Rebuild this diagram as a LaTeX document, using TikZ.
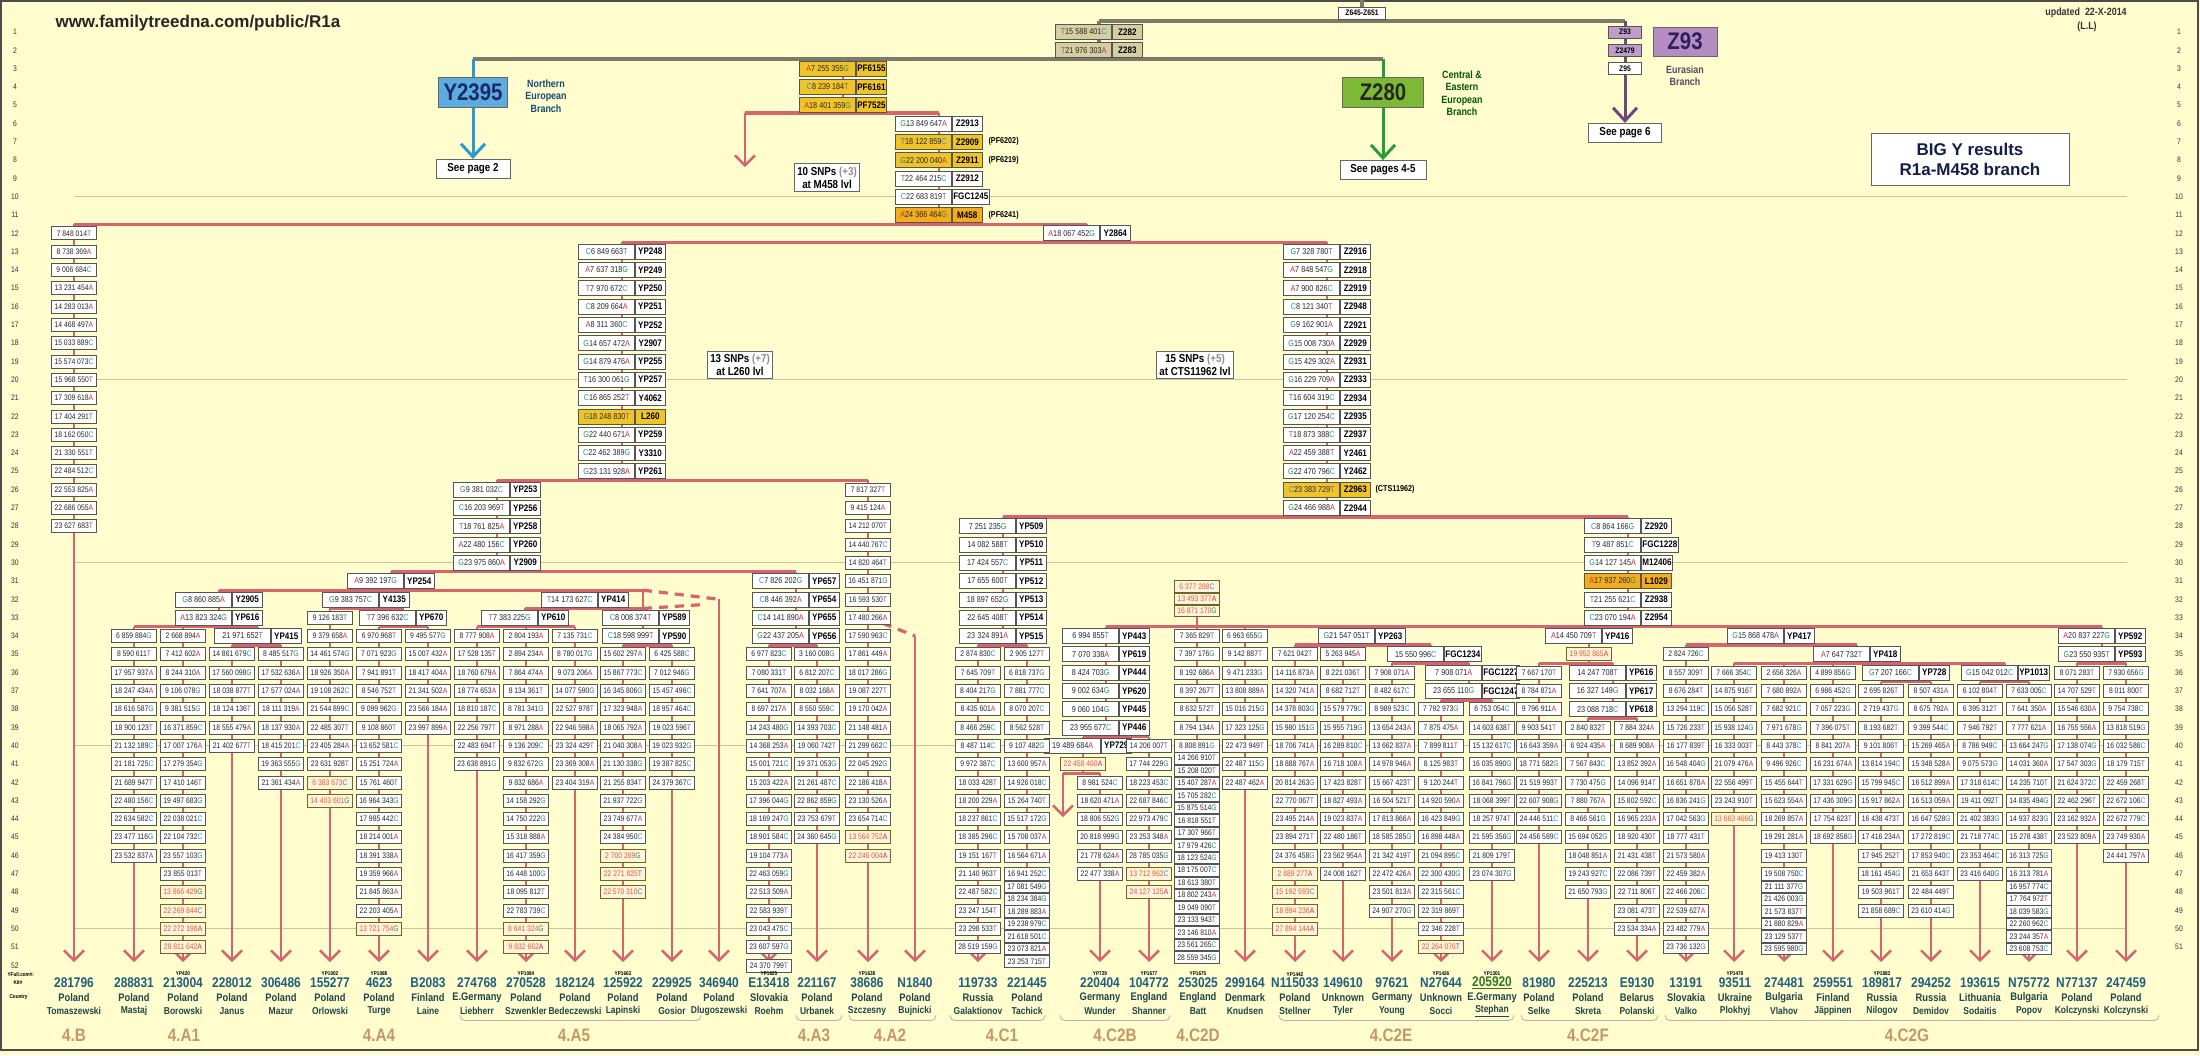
\documentclass[tikz,border=0pt]{standalone}
\usepackage{fontspec}
\setmainfont{Liberation Sans}
\newfontfamily\nar[FakeStretch=0.85]{Liberation Sans}
\usetikzlibrary{arrows.meta}

\definecolor{bgpage}{RGB}{255,253,206}
\definecolor{treered}{RGB}{214,100,106}
\definecolor{treegrey}{RGB}{125,122,105}
\definecolor{rowgrey}{RGB}{200,198,160}
\definecolor{boxline}{RGB}{85,85,85}
\definecolor{goldfill}{RGB}{240,196,40}
\definecolor{orfill}{RGB}{242,172,30}
\definecolor{khaki}{RGB}{214,206,160}
\definecolor{al}{RGB}{0,0,0}
\definecolor{alA}{RGB}{200,50,60}
\definecolor{alC}{RGB}{40,150,200}
\definecolor{alG}{RGB}{40,140,90}
\definecolor{alT}{RGB}{130,90,130}
\definecolor{unsure}{RGB}{228,95,40}
\definecolor{kitblue}{RGB}{30,95,125}
\definecolor{kitgr}{RGB}{50,120,30}
\definecolor{ctygreen}{RGB}{30,70,75}
\definecolor{branchtan}{RGB}{196,150,105}
\definecolor{ybl}{RGB}{92,172,222}
\definecolor{ybltext}{RGB}{27,42,107}
\definecolor{zgr}{RGB}{124,185,52}
\definecolor{zpu}{RGB}{180,140,192}
\definecolor{zputext}{RGB}{47,31,95}
\definecolor{arrblue}{RGB}{42,154,208}
\definecolor{arrgreen}{RGB}{42,154,58}
\definecolor{arrpurple}{RGB}{106,74,127}

% allele letter in its colour
\newcommand\al[1]{\textcolor{al#1}{#1}}

% chain of named SNP boxes down one column: x, first row, list a/p/b/name/fill
\newcommand\chaincol[3]{%
  \foreach \a/\p/\b/\n/\f [count=\i from 0] in {#3}{
    \node[pospart,fill=\f] (p#1-\i) at ({#1+13},{#2+\i}) {\al{\a}\p\al{\b}};
    \node[namepart,fill=\f] (n#1-\i) at ({#1+13},{#2+\i}) {\n};
  }}

% column of small boxes: tag, style, x, first row, row step, list p/b
\newcommand\boxcol[6]{%
  \foreach \p/\b [count=\i from 0] in {#6}{
    \node[#2] (#1-\i) at (#3,{#4+#5*\i}) {\p\al{\b}};
  }}

\begin{document}
\begin{tikzpicture}[x=1pt,y=-18.3pt,
    redbar/.style={draw=treered,line width=3.2pt},
    reddrop/.style={draw=treered,line width=2.4pt},
    redarrow/.style={reddrop,-{Straight Barb[length=10pt,width=20pt]}},
    greybar/.style={draw=treegrey,line width=3.2pt},
    rowline/.style={draw=rowgrey,line width=1.2pt},
    leafbox/.style={draw=boxline,fill=white,line width=0.6pt,inner sep=0pt,
      minimum width=45pt,minimum height=13pt,text=black!85,
      font=\nar\fontsize{8}{9}\selectfont},
    unsurebox/.style={leafbox,fill=bgpage!70!orange!30,draw=olive!70!black,text=unsure},
    tightbox/.style={leafbox,minimum height=11.5pt},
    pospart/.style={draw=boxline,line width=0.6pt,inner sep=0pt,anchor=east,
      minimum width=56pt,minimum height=15pt,text=black!85,
      font=\nar\fontsize{8.5}{9}\selectfont},
    namepart/.style={draw=boxline,line width=0.6pt,inner sep=1pt,anchor=west,
      minimum width=30pt,minimum height=15pt,
      font=\nar\bfseries\fontsize{9.5}{10}\selectfont},
    seebox/.style={draw=black!60,fill=white,line width=0.8pt,minimum height=19pt,
      inner sep=3pt,font=\nar\bfseries\fontsize{11.5}{12}\selectfont},
    snpnote/.style={draw=black!60,fill=white,line width=0.8pt,align=center,
      inner sep=3pt,font=\nar\bfseries\fontsize{11.5}{13}\selectfont},
    rowno/.style={font=\nar\fontsize{8}{9}\selectfont,text=black!80},
    smallz/.style={draw=boxline,line width=0.6pt,minimum width=33pt,minimum height=12pt,
      inner sep=0pt,font=\nar\bfseries\fontsize{8}{9}\selectfont},
    yplab/.style={font=\nar\bfseries\fontsize{5.5}{6}\selectfont},
    kitlab/.style={font=\nar\bfseries\fontsize{14}{14}\selectfont,text=kitblue},
    ctylab/.style={font=\nar\bfseries\fontsize{11}{12}\selectfont,text=ctygreen},
    namelab/.style={font=\nar\bfseries\fontsize{10}{11}\selectfont,text=ctygreen},
    brlab/.style={font=\nar\bfseries\fontsize{18}{19}\selectfont,text=branchtan},
    grpbracket/.style={draw=black!30,line width=0.8pt,rounded corners=5pt},
  ]
  \useasboundingbox (0,-0.7486) rectangle (2200,56.902);
  \fill[bgpage] (0,-0.7486) rectangle (2200,56.902);
  \draw[black!70,line width=2pt] (1,-0.69) rectangle (2198,56.63);

  % row numbers and guide lines
  \foreach \r in {1,...,52}
    \node[rowno] (rl\r) at (15,\r) {\r};
  \foreach \r in {1,...,51}
    \node[rowno] (rr\r) at (2179,\r) {\r};
  \foreach \r in {10,20,30,40,50}
    \draw[rowline] (74,\r) -- (2127,\r);

  % top of the tree
  \draw[greybar] (1362,-0.75) -- (1362,0.4);
  \draw[greybar] (1099,0.4) -- (1625,0.4);
  \draw[greybar] (1099,0.4) -- (1099,2.48);
  \draw[greybar] (473,2.48) -- (1383,2.48);
  \draw[draw=arrblue,line width=3pt,-{Straight Barb[length=13pt,width=24pt]}] (473,2.48) -- (473,7.94);
  \draw[draw=arrgreen,line width=3pt,-{Straight Barb[length=13pt,width=24pt]}] (1383,2.48) -- (1383,8.0);
  \draw[draw=arrpurple,line width=3pt,-{Straight Barb[length=13pt,width=24pt]}] (1625,0.4) -- (1625,5.97);

  % M458 and below
  \draw[reddrop] (843,2.48) -- (843,5.43);
  \draw[redbar] (745,5.43) -- (939,5.43);
  \draw[redarrow] (745,5.43) -- (745,8.38);
  \draw[reddrop] (939,5.43) -- (939,11.5);
  \draw[redbar] (74,11.5) -- (1087,11.5);
  \draw[reddrop] (1087,11.5) -- (1087,12.5);
  \draw[redbar] (622,12.5) -- (1327,12.5);
  \draw[reddrop] (622,12.5) -- (622,25.5);
  \draw[redbar] (497,25.5) -- (868,25.5);
  \draw[reddrop] (497,25.5) -- (497,30.5);
  \draw[redbar] (391,30.5) -- (796,30.5);
  \draw[reddrop] (391,30.5) -- (391,31.5);
  \draw[redbar] (219,31.5) -- (643,31.5);
  \draw[redbar,dash pattern=on 9pt off 7pt] (643,31.5) -- (719,32);
  \draw[redbar,dash pattern=on 9pt off 7pt] (643,32.5) -- (700,32.3);
  \draw[reddrop] (219,31.5) -- (219,33.5);
  \draw[redbar] (134,33.5) -- (258,33.5);
  \draw[reddrop] (258,33.5) -- (258,34.5);
  \draw[redbar] (232,34.5) -- (281,34.5);
  \draw[reddrop] (366,31.5) -- (366,32.5);
  \draw[redbar] (330,32.5) -- (403,32.5);
  \draw[reddrop] (403,32.5) -- (403,33.5);
  \draw[redbar] (379,33.5) -- (428,33.5);
  \draw[reddrop] (585,31.5) -- (585,32.5);
  \draw[redbar] (525,32.5) -- (643,32.5);
  \draw[reddrop] (525,32.5) -- (525,33.5);
  \draw[redbar] (477,33.5) -- (575,33.5);
  \draw[reddrop] (643,31.5) -- (643,34.5);
  \draw[redbar] (623,34.5) -- (672,34.5);
  \draw[reddrop] (796,30.5) -- (796,34.5);
  \draw[redbar] (769,34.5) -- (817,34.5);
  \draw[redbar,dash pattern=on 9pt off 7pt] (868,33) -- (915,34);
  \draw[reddrop] (1327,12.5) -- (1327,27.5);
  \draw[redbar] (1003,27.5) -- (1628,27.5);
  \draw[reddrop] (1003,27.5) -- (1003,34.5);
  \draw[redbar] (978,34.5) -- (1027,34.5);
  \draw[reddrop] (1628,27.5) -- (1628,33.5);
  \draw[redbar] (1106,33.5) -- (2102,33.5);
  \draw[reddrop] (1106,33.5) -- (1106,39.5);
  \draw[redbar] (1083,39.5) -- (1149,39.5);
  \draw[reddrop] (1083,39.5) -- (1083,41.5);
  \draw[redbar] (1063,41.5) -- (1100,41.5);
  \draw[redarrow] (1063,41.5) -- (1063,43.9);
  \draw[reddrop] (1362,33.5) -- (1362,34.5);
  \draw[redbar] (1295,34.5) -- (1431,34.5);
  \draw[reddrop] (1431,34.5) -- (1431,35.5);
  \draw[redbar] (1392,35.5) -- (1469,35.5);
  \draw[reddrop] (1469,35.5) -- (1469,37.5);
  \draw[redbar] (1441,37.5) -- (1492,37.5);
  \draw[reddrop] (1589,33.5) -- (1589,35.5);
  \draw[redbar] (1539,35.5) -- (1613,35.5);
  \draw[reddrop] (1613,35.5) -- (1613,38.5);
  \draw[redbar] (1588,38.5) -- (1637,38.5);
  \draw[reddrop] (1771,33.5) -- (1771,34.5);
  \draw[redbar] (1686,34.5) -- (1857,34.5);
  \draw[reddrop] (1857,34.5) -- (1857,35.5);
  \draw[redbar] (1734,35.5) -- (2005,35.5);
  \draw[reddrop] (1906,35.5) -- (1906,36.5);
  \draw[redbar] (1881,36.5) -- (1931,36.5);
  \draw[reddrop] (2005,35.5) -- (2005,36.5);
  \draw[redbar] (1980,36.5) -- (2029,36.5);
  \draw[reddrop] (2102,33.5) -- (2102,35.5);
  \draw[redbar] (2077,35.5) -- (2126,35.5);

  % drops to the tested kits
  \foreach \x/\r in {74/11.5, 134/33.5, 183/33.5, 232/34.5, 281/34.5, 330/32.5,
      379/33.5, 428/33.5, 477/33.5, 526/33.5, 575/33.5, 623/34.5, 672/34.5,
      719/32, 769/34.5, 817/34.5, 868/25.5, 915/34, 978/34.5, 1027/34.5,
      1100/41.5, 1149/39.5, 1197/31.2, 1245/33.5, 1295/34.5, 1343/34.5,
      1392/35.5, 1441/37.5, 1492/37.5, 1539/35.5, 1588/38.5, 1637/38.5,
      1686/34.5, 1734/35.5, 1784/35.5, 1833/35.5, 1881/36.5, 1931/36.5,
      1980/36.5, 2029/36.5, 2077/35.5, 2126/35.5}
    \draw[redarrow] (\x,\r) -- (\x,51.82);

  % headings
  \node[anchor=west,font=\bfseries\fontsize{17}{18}\selectfont,text=black!85] (title) at (52,0.51) {www.familytreedna.com/public/R1a};
  \node[font=\nar\bfseries\fontsize{10.5}{11}\selectfont,text=black!80] (upd) at (2086,-0.04) {updated~~22-X-2014};
  \node[font=\nar\bfseries\fontsize{10.5}{11}\selectfont,text=black!80] (ll) at (2087,0.73) {(L.L)};
  \node[draw=black!60,fill=white,line width=0.8pt,minimum width=198pt,minimum height=52pt,align=center,
    font=\bfseries\fontsize{17}{20}\selectfont,text=ybltext!70!black] (bigy) at (1970,7.94) {BIG Y results\\R1a-M458 branch};

  % main branches
  \node[smallz,fill=white,minimum width=47pt] (z645) at (1362,-0.04) {Z645-Z651};
  \chaincol{1099}{1}{T/15 588 401/C/Z282/khaki, T/21 976 303/A/Z283/khaki}
  \node[smallz,fill=zpu!85] (z93s) at (1625,1) {Z93};
  \node[smallz,fill=zpu!85] (z2479) at (1625,2) {Z2479};
  \node[smallz,fill=white] (z95) at (1625,3) {Z95};
  \node[draw=black!60,fill=zpu,minimum width=64pt,minimum height=29pt,inner sep=0pt,
    font=\nar\bfseries\fontsize{24}{24}\selectfont,text=zputext] (z93) at (1685,1.52) {Z93};
  \node[align=center,font=\nar\bfseries\fontsize{10.5}{12.5}\selectfont,text=black!50!zpu] (eura) at (1685,3.4) {Eurasian\\Branch};
  \node[draw=black!60,fill=ybl,minimum width=69pt,minimum height=30pt,inner sep=0pt,
    font=\nar\bfseries\fontsize{24}{24}\selectfont,text=ybltext] (y2395) at (473,4.28) {Y2395};
  \node[align=center,font=\nar\bfseries\fontsize{10.5}{12.5}\selectfont,text=ybltext!60!teal] (north) at (546,4.5) {Northern\\European\\Branch};
  \node[draw=black!60,fill=zgr,minimum width=81pt,minimum height=30pt,inner sep=0pt,
    font=\nar\bfseries\fontsize{24}{24}\selectfont,text=black!85] (z280) at (1383,4.28) {Z280};
  \node[align=center,font=\nar\bfseries\fontsize{10.5}{12.5}\selectfont,text=green!35!black] (centr) at (1462,4.34) {Central \&\\Eastern\\European\\Branch};
  \node[seebox,minimum width=74pt] (see2) at (473,8.46) {See page 2};
  \node[seebox,minimum width=86pt] (see45) at (1383,8.54) {See pages 4-5};
  \node[seebox,minimum width=73pt] (see6) at (1625,6.52) {See page 6};

  % named SNP chains
  \chaincol{843}{3}{A/7 255 355/G/PF6155/goldfill, C/8 239 184/T/PF6161/goldfill, A/18 401 359/G/PF7525/goldfill}
  \chaincol{939}{6}{G/13 849 647/A/Z2913/white, T/18 122 859/C/Z2909/goldfill,
    G/22 200 040/A/Z2911/goldfill, T/22 464 215/C/Z2912/white,
    C/22 683 819/T/FGC1245/white, A/24 366 464/G/M458/orfill}
  \node[anchor=west,font=\nar\bfseries\fontsize{8.5}{9}\selectfont] (pf6202) at (985,7) {(PF6202)};
  \node[anchor=west,font=\nar\bfseries\fontsize{8.5}{9}\selectfont] (pf6219) at (985,8) {(PF6219)};
  \node[anchor=west,font=\nar\bfseries\fontsize{8.5}{9}\selectfont] (pf6241) at (985,11) {(PF6241)};
  \node[snpnote] (m458note) at (827,8.95) {10 SNPs \textcolor{black!45}{(+3)}\\at M458 lvl};
  \chaincol{1087}{12}{A/18 067 452/G/Y2864/white}
  \chaincol{622}{13}{C/6 849 663/T/YP248/white, A/7 637 318/G/YP249/white,
    T/7 970 672/C/YP250/white, C/8 209 664/A/YP251/white, A/8 311 360/C/YP252/white,
    G/14 657 472/A/Y2907/white, G/14 879 476/A/YP255/white, T/16 300 061/G/YP257/white,
    C/16 865 252/T/Y4062/white, G/18 248 830/T/L260/goldfill, G/22 440 671/A/YP259/white,
    C/22 462 389/G/Y3310/white, G/23 131 928/A/YP261/white}
  \node[snpnote] (l260note) at (740,19.2) {13 SNPs \textcolor{black!45}{(+7)}\\at L260 lvl};
  \chaincol{497}{26}{G/9 381 032/C/YP253/white, C/16 203 969/T/YP256/white,
    T/18 761 825/A/YP258/white, A/22 480 156/C/YP260/white, G/23 975 860/A/Y2909/white}
  \chaincol{391}{31}{A/9 392 197/G/YP254/white}
  \chaincol{219}{32}{G/8 860 885/A/Y2905/white, A/13 823 324/G/YP616/white}
  \chaincol{258}{34}{/21 971 652/T/YP415/white}
  \chaincol{366}{32}{G/9 383 757/C/Y4135/white}
  \chaincol{403}{33}{T/7 396 632/C/YP670/white}
  \chaincol{585}{32}{T/14 173 627/C/YP414/white}
  \chaincol{525}{33}{T/7 383 225/G/YP610/white}
  \chaincol{646}{33}{C/8 008 374/T/YP589/white, C/18 598 999/T/YP590/white}
  \chaincol{796}{31}{C/7 826 202/G/YP657/white, C/8 446 392/A/YP654/white,
    C/14 141 890/A/YP655/white, G/22 437 205/A/YP656/white}
  \chaincol{1327}{13}{G/7 328 780/T/Z2916/white, A/7 848 547/G/Z2918/white,
    A/7 900 826/C/Z2919/white, C/8 121 340/T/Z2948/white, G/9 162 901/A/Z2921/white,
    G/15 008 730/A/Z2929/white, G/15 429 302/A/Z2931/white, G/16 229 709/A/Z2933/white,
    T/16 604 319/C/Z2934/white, G/17 120 254/C/Z2935/white, T/18 873 388/C/Z2937/white,
    A/22 459 388/T/Y2461/white, G/22 470 796/C/Y2462/white, C/23 383 729/T/Z2963/goldfill,
    G/24 466 988/A/Z2944/white}
  \node[anchor=west,font=\nar\bfseries\fontsize{8.5}{9}\selectfont] (cts) at (1372,26) {(CTS11962)};
  \node[snpnote] (ctsnote) at (1195,19.2) {15 SNPs \textcolor{black!45}{(+5)}\\at CTS11962 lvl};
  \chaincol{1003}{28}{/7 251 235/G/YP509/white, /14 082 588/T/YP510/white,
    /17 424 557/C/YP511/white, /17 655 600/T/YP512/white, /18 897 652/G/YP513/white,
    /22 645 408/T/YP514/white, /23 324 891/A/YP515/white}
  \chaincol{1628}{28}{C/8 864 166/G/Z2920/white, T/9 487 851/C/FGC1228/white,
    G/14 127 145/A/M12406/white, A/17 937 260/G/L1029/orfill,
    T/21 255 621/C/Z2938/white, C/23 070 194/A/Z2954/white}
  \chaincol{1106}{34}{/6 994 855/T/YP443/white, /7 070 338/A/YP619/white,
    /8 424 703/G/YP444/white, /9 002 634/G/YP620/white, /9 060 104/G/YP445/white,
    /23 955 677/C/YP446/white}
  \chaincol{1088}{40}{/19 489 684/A/YP729/white}
  \chaincol{1362}{34}{G/21 547 051/T/YP263/white}
  \chaincol{1431}{35}{/15 550 996/C/FGC1234/white}
  \chaincol{1469}{36}{/7 908 071/A/FGC1227/white, /23 655 110/G/FGC1247/white}
  \chaincol{1589}{34}{A/14 450 709/T/YP416/white}
  \chaincol{1613}{36}{/14 247 708/T/YP616/white, /16 327 149/G/YP617/white, /23 088 718/C/YP618/white}
  \chaincol{1771}{34}{G/15 868 478/A/YP417/white}
  \chaincol{1857}{35}{A/7 647 732/T/YP418/white}
  \chaincol{1906}{36}{G/7 207 166/C/YP728/white}
  \chaincol{2005}{36}{G/15 042 012/C/YP1013/white}
  \chaincol{2102}{34}{A/20 837 227/G/YP592/white, G/23 550 935/T/YP593/white}

  % private SNPs per kit
  \boxcol{a}{leafbox}{74}{12}{1}{7 848 014/T, 8 738 369/A, 9 006 684/C, 13 231 454/A,
    14 283 013/A, 14 468 497/A, 15 033 889/C, 15 574 073/C, 15 968 550/T, 17 309 618/A,
    17 404 291/T, 18 162 050/C, 21 330 551/T, 22 484 512/C, 22 553 825/A, 22 686 055/A, 23 627 683/T}
  \boxcol{b}{leafbox}{134}{34}{1}{6 859 884/G, 8 590 611/T, 17 957 937/A, 18 247 434/A,
    18 616 587/G, 18 900 123/T, 21 132 189/C, 21 181 725/C, 21 689 947/T, 22 480 156/C,
    22 634 582/C, 23 477 116/G, 23 532 837/A}
  \boxcol{c}{leafbox}{183}{34}{1}{2 668 894/A, 7 412 602/A, 8 244 310/A, 9 106 078/G,
    9 381 515/G, 16 371 859/C, 17 007 176/A, 17 279 354/G, 17 410 146/T, 19 497 683/G,
    22 038 021/C, 22 104 732/C, 23 557 103/G, 23 855 013/T}
  \boxcol{cu}{unsurebox}{183}{48}{1}{13 866 429/G, 22 269 844/C, 22 272 198/A, 28 811 642/A}
  \boxcol{d}{leafbox}{232}{35}{1}{14 861 679/C, 17 560 098/G, 18 038 877/T, 18 124 136/T,
    18 555 479/A, 21 402 677/T}
  \boxcol{e}{leafbox}{281}{35}{1}{8 485 517/G, 17 532 636/A, 17 577 024/A, 18 111 319/A,
    18 137 930/A, 18 415 201/C, 19 363 555/G, 21 361 434/A}
  \boxcol{f}{leafbox}{330}{33}{1}{9 126 183/T, 9 379 658/A, 14 461 574/G, 18 926 350/A,
    19 108 262/C, 21 544 899/C, 22 485 307/T, 23 405 284/A, 23 631 928/T}
  \boxcol{fu}{unsurebox}{330}{42}{1}{6 383 673/C, 14 403 601/G}
  \boxcol{g}{leafbox}{379}{34}{1}{6 970 968/T, 7 071 923/G, 7 941 891/T, 8 546 752/T,
    9 099 962/G, 9 108 860/T, 13 652 581/C, 15 251 724/A, 15 761 460/T, 16 964 343/G,
    17 985 442/C, 18 214 001/A, 18 391 338/A, 19 359 966/A, 21 845 863/A, 22 203 405/A}
  \boxcol{gu}{unsurebox}{379}{50}{1}{13 721 754/G}
  \boxcol{h}{leafbox}{428}{34}{1}{9 495 577/G, 15 007 432/A, 18 417 404/A, 21 341 502/A,
    23 566 184/A, 23 997 899/A}
  \boxcol{i}{leafbox}{477}{34}{1}{8 777 908/A, 17 528 135/T, 18 760 679/A, 18 774 653/A,
    18 810 187/C, 22 256 797/T, 22 483 694/T, 23 638 891/G}
  \boxcol{j}{leafbox}{526}{34}{1}{2 804 193/A, 2 894 234/A, 7 864 474/A, 8 134 361/T,
    8 781 341/G, 8 971 288/A, 9 136 209/C, 9 832 672/G, 9 832 686/A, 14 158 292/G,
    14 750 222/G, 15 318 888/A, 16 417 359/G, 16 448 100/G, 18 095 812/T, 22 783 739/C}
  \boxcol{ju}{unsurebox}{526}{50}{1}{8 641 324/G, 9 832 662/A}
  \boxcol{k}{leafbox}{575}{34}{1}{7 135 731/C, 8 780 017/G, 9 073 206/A, 14 077 590/G,
    22 527 978/T, 22 946 598/A, 23 324 429/T, 23 369 308/A, 23 404 319/A}
  \boxcol{l}{leafbox}{623}{35}{1}{15 602 297/A, 15 867 773/C, 16 345 806/G, 17 323 948/A,
    18 065 792/A, 21 040 308/A, 21 130 338/G, 21 255 834/T, 21 937 722/G, 23 749 677/A, 24 384 950/C}
  \boxcol{lu}{unsurebox}{623}{46}{1}{2 700 269/G, 22 271 825/T, 22 570 310/C}
  \boxcol{m}{leafbox}{672}{35}{1}{6 425 588/C, 7 012 946/G, 15 457 496/C, 18 957 464/C,
    19 023 596/T, 19 023 932/G, 19 387 825/C, 24 379 367/C}
  \boxcol{n}{leafbox}{769}{35}{1}{6 977 823/C, 7 080 331/T, 7 641 707/A, 8 697 217/A,
    14 243 480/G, 14 368 253/A, 15 001 721/C, 15 203 422/A, 17 396 044/G, 18 169 247/G,
    18 901 584/C, 19 104 773/A, 22 463 059/G, 22 513 509/A, 22 583 939/T, 23 043 475/C,
    23 607 597/G, 24 370 799/T}
  \boxcol{o}{leafbox}{817}{35}{1}{3 160 008/G, 6 812 207/C, 8 032 168/A, 8 550 559/C,
    14 393 703/C, 19 060 742/T, 19 371 053/G, 21 261 487/C, 22 862 859/G, 23 753 679/T, 24 360 645/G}
  \boxcol{q}{leafbox}{868}{26}{1}{7 817 327/T, 9 415 124/A, 14 212 070/T, 14 440 767/C,
    14 820 464/T, 16 451 871/G, 16 593 530/T, 17 480 266/A, 17 590 963/C, 17 861 449/A,
    18 017 286/G, 19 087 227/T, 19 170 042/A, 21 148 481/A, 21 299 662/C, 22 045 292/G,
    22 186 418/A, 23 130 526/A, 23 654 714/C}
  \boxcol{qu}{unsurebox}{868}{45}{1}{13 564 752/A, 22 246 004/A}
  \boxcol{r}{leafbox}{978}{35}{1}{2 874 830/C, 7 645 709/T, 8 404 217/G, 8 435 601/A,
    8 466 259/C, 8 487 114/C, 9 972 387/C, 18 033 428/T, 18 200 229/A, 18 237 861/C,
    18 385 296/C, 19 151 167/T, 21 140 963/T, 22 487 582/C, 23 247 154/T, 23 298 533/T, 28 519 159/G}
  \boxcol{s}{leafbox}{1027}{35}{1}{2 905 127/T, 6 818 737/G, 7 881 777/C, 8 070 207/C,
    8 562 528/T, 9 107 482/G, 13 600 957/A, 14 926 018/C, 15 264 740/T, 15 517 172/G,
    15 708 037/A, 16 564 671/A, 16 941 252/C}
  \boxcol{st}{tightbox}{1027}{47.7}{0.68}{17 081 549/G, 18 234 384/G, 18 289 883/A,
    19 238 979/C, 21 618 501/C, 23 073 821/A, 23 253 715/T}
  \boxcol{tu}{unsurebox}{1083}{41}{1}{22 458 460/A}
  \boxcol{t}{leafbox}{1100}{42}{1}{8 981 524/C, 18 620 471/A, 18 806 552/G, 20 818 999/G,
    21 778 624/A, 22 477 338/A}
  \boxcol{u}{leafbox}{1149}{40}{1}{14 206 007/T, 17 744 229/G, 18 223 453/C, 22 687 846/C,
    22 973 479/C, 23 253 348/A, 28 785 035/G}
  \boxcol{uu}{unsurebox}{1149}{47}{1}{13 712 962/C, 24 127 125/A}
  \boxcol{vu}{unsurebox,minimum height=11.5pt}{1197}{31.3}{0.66}{6 377 288/C, 13 493 377/A, 16 871 170/G}
  \boxcol{v}{leafbox}{1197}{34}{1}{7 365 829/T, 7 397 176/G, 8 192 686/A, 8 397 267/T,
    8 632 572/T, 8 794 134/A, 8 808 891/G}
  \boxcol{vt}{tightbox}{1197}{40.68}{0.68}{14 266 910/T, 15 208 020/T, 15 407 287/A,
    15 705 282/C, 15 875 514/G, 16 818 551/T, 17 307 966/T, 17 979 426/C, 18 123 524/G,
    18 175 007/C, 18 613 380/T, 18 802 243/A, 19 049 090/T, 23 133 943/T, 23 146 810/A,
    23 561 265/C, 28 559 345/G}
  \boxcol{w}{leafbox}{1245}{34}{1}{6 963 655/G, 9 142 887/T, 9 471 233/G, 13 808 889/A,
    15 016 215/G, 17 323 125/G, 22 473 949/T, 22 487 115/G, 22 487 462/A}
  \boxcol{x}{leafbox}{1295}{35}{1}{7 621 042/T, 14 116 873/A, 14 320 741/A, 14 378 803/G,
    15 980 151/G, 18 706 741/A, 18 888 767/A, 20 814 263/G, 22 770 067/T, 23 495 214/A,
    23 894 271/T, 24 376 458/G}
  \boxcol{xu}{unsurebox}{1295}{47}{1}{2 889 277/A, 15 192 593/C, 18 894 236/A, 27 894 144/A}
  \boxcol{y}{leafbox}{1343}{35}{1}{5 263 945/A, 8 221 036/T, 8 682 712/T, 15 579 779/C,
    15 955 719/G, 16 289 810/C, 16 718 108/A, 17 423 828/T, 18 827 493/A, 19 023 837/A,
    22 480 186/T, 23 562 954/A, 24 008 162/T}
  \boxcol{z}{leafbox}{1392}{36}{1}{7 908 071/A, 8 482 617/C, 8 989 523/C, 13 654 243/A,
    13 662 837/A, 14 978 946/A, 15 667 423/T, 16 504 521/T, 17 813 866/A, 18 585 285/G,
    21 342 419/T, 22 472 426/A, 23 501 813/A, 24 907 270/G}
  \boxcol{aa}{leafbox}{1441}{38}{1}{7 792 973/G, 7 875 475/A, 7 899 811/T, 8 125 983/T,
    9 120 244/T, 14 920 590/A, 16 423 849/G, 16 898 448/A, 21 094 895/C, 22 300 430/G,
    22 315 561/C, 22 319 869/T, 22 346 228/T}
  \boxcol{aau}{unsurebox}{1441}{51}{1}{22 264 076/T}
  \boxcol{ab}{leafbox}{1492}{38}{1}{6 753 054/C, 14 603 638/T, 15 132 617/C, 16 035 890/G,
    16 841 796/G, 18 068 399/T, 18 257 974/T, 21 595 356/G, 21 809 179/T, 23 074 307/G}
  \boxcol{ac}{leafbox}{1539}{36}{1}{7 667 170/T, 8 784 871/A, 9 796 911/A, 9 903 541/T,
    16 643 359/A, 18 771 582/G, 21 519 993/T, 22 607 908/G, 24 446 511/C, 24 456 589/C}
  \boxcol{adu}{unsurebox}{1589}{35}{1}{19 952 865/A}
  \boxcol{ad}{leafbox}{1588}{39}{1}{2 840 832/T, 6 924 435/A, 7 567 843/C, 7 730 475/G,
    7 880 767/A, 8 466 561/G, 15 694 052/G, 18 048 851/A, 19 243 927/C, 21 650 793/G}
  \boxcol{ae}{leafbox}{1637}{39}{1}{7 884 324/A, 8 689 908/A, 13 852 392/A, 14 096 914/T,
    15 802 592/C, 16 965 233/A, 18 920 430/T, 21 431 438/T, 22 086 739/T, 22 711 806/T,
    23 081 473/T, 23 534 334/A}
  \boxcol{af}{leafbox}{1686}{35}{1}{2 824 726/C, 8 557 309/T, 8 676 284/T, 13 294 119/C,
    15 726 233/T, 16 177 839/T, 16 548 404/G, 16 651 878/A, 16 836 241/G, 17 042 563/G,
    18 777 431/T, 21 573 580/A, 22 459 382/A, 22 466 206/C, 22 539 627/A, 23 482 779/A, 23 736 132/G}
  \boxcol{ag}{leafbox}{1734}{36}{1}{7 666 354/C, 14 875 916/T, 15 056 528/T, 15 938 124/G,
    16 333 003/T, 21 079 476/A, 22 556 499/T, 23 243 910/T}
  \boxcol{agu}{unsurebox}{1734}{44}{1}{13 663 466/G}
  \boxcol{ah}{leafbox}{1784}{36}{1}{2 656 326/A, 7 680 892/A, 7 682 921/C, 7 971 678/G,
    8 443 378/C, 9 496 926/C, 15 455 644/T, 15 623 554/A, 18 269 857/A, 19 291 281/A,
    19 413 130/T, 19 508 750/C}
  \boxcol{aht}{tightbox}{1784}{47.7}{0.68}{21 111 377/G, 21 426 003/G, 21 573 837/T,
    21 880 829/A, 23 129 537/T, 23 595 980/G}
  \boxcol{ai}{leafbox}{1833}{36}{1}{4 899 856/G, 6 986 452/G, 7 057 223/G, 7 396 075/T,
    8 841 207/A, 16 231 674/A, 17 331 629/G, 17 436 309/G, 17 754 623/T, 18 692 858/G}
  \boxcol{aj}{leafbox}{1881}{37}{1}{2 695 826/T, 2 719 437/G, 8 193 682/T, 9 101 806/T,
    13 814 194/C, 15 799 945/C, 15 917 862/A, 16 438 473/T, 17 416 234/A, 17 945 252/T,
    18 161 454/G, 19 503 961/T, 21 858 689/C}
  \boxcol{ak}{leafbox}{1931}{37}{1}{8 507 431/A, 8 675 792/A, 9 399 544/C, 15 269 465/A,
    15 348 528/A, 16 512 899/A, 16 513 059/A, 16 647 528/G, 17 272 819/C, 17 853 940/C,
    21 653 643/T, 22 484 449/T, 23 610 414/G}
  \boxcol{al}{leafbox}{1980}{37}{1}{6 102 804/T, 6 395 312/T, 7 946 792/T, 8 786 949/C,
    9 075 573/G, 17 318 614/C, 19 411 092/T, 21 402 383/G, 21 718 774/C, 23 353 464/C, 23 416 640/G}
  \boxcol{am}{leafbox}{2029}{37}{1}{7 633 005/C, 7 641 350/A, 7 777 621/A, 13 664 247/G,
    14 031 360/A, 14 235 710/T, 14 835 494/G, 14 937 823/G, 15 278 438/T, 16 313 725/G, 16 313 781/A}
  \boxcol{amt}{tightbox}{2029}{47.7}{0.68}{16 957 774/C, 17 764 972/T, 18 039 583/G,
    22 260 962/C, 23 244 357/A, 23 608 753/C}
  \boxcol{an}{leafbox}{2077}{36}{1}{8 071 283/T, 14 707 529/T, 15 546 630/A, 16 755 556/A,
    17 138 074/G, 17 547 303/G, 21 624 372/C, 22 462 296/T, 23 162 932/A, 23 523 809/A}
  \boxcol{ao}{leafbox}{2126}{36}{1}{7 930 656/G, 8 011 800/T, 9 754 738/C, 13 818 519/G,
    16 032 586/C, 18 179 715/T, 22 459 268/T, 22 672 106/C, 22 672 779/C, 23 749 930/A, 24 441 797/A}

  % kit labels at the foot
  \node[anchor=west,font=\nar\bfseries\fontsize{5.5}{6}\selectfont] (yfull) at (4,52.48) {YFull.com\#:};
  \node[anchor=west,font=\nar\bfseries\fontsize{5.5}{6}\selectfont] (kitno) at (10,52.95) {Kit\#};
  \node[anchor=west,font=\nar\bfseries\fontsize{5.5}{6}\selectfont] (ctry) at (6,53.73) {Country};
  \foreach \x/\yp/\kit/\cty/\nm [count=\k] in {74//281796/Poland/Tomaszewski,
      134//288831/Poland/Mastaj, 183/YP420/213004/Poland/Borowski, 232//228012/Poland/Janus,
      281//306486/Poland/Mazur, 330/YP1002/155277/Poland/Orlowski, 379/YP1088/4623/Poland/Turge,
      428//B2083/Finland/Laine, 477//274768/E.Germany/Liebherr, 526/YP1084/270528/Poland/Szwenkler,
      575//182124/Poland/Bedeczewski, 623/YP1663/125922/Poland/Lapinski, 672//229925/Poland/Gosior,
      719//346940/Poland/Dlugoszewski, 769/YP1625/E13418/Slovakia/Roehm, 817//221167/Poland/Urbanek,
      867/YP1638/38686/Poland/Szczesny, 915//N1840/Poland/Bujnicki, 978//119733/Russia/Galaktionov,
      1027//221445/Poland/Tachick, 1100/YP729/220404/Germany/Wunder, 1149/YP1677/104772/England/Shanner,
      1198/YP1675/253025/England/Batt, 1245//299164/Denmark/Knudsen, 1295/YP1442/N115033/Poland/Stellner,
      1343//149610/Unknown/Tyler, 1392//97621/Germany/Young, 1441/YP1426/N27644/Unknown/Socci,
      1492/YP1301/{\textcolor{kitgr}{\underline{205920}}}/E.Germany/{\underline{Stephan}},
      1539//81980/Poland/Selke, 1588//225213/Poland/Skreta, 1637//E9130/Belarus/Polanski,
      1686//13191/Slovakia/Valko, 1735/YP1479/93511/Ukraine/Plokhyj, 1784//274481/Bulgaria/Vlahov,
      1833//259551/Finland/Jäppinen, 1882/YP1883/189817/Russia/Nilogov, 1931//294252/Russia/Demidov,
      1980//193615/Lithuania/Sodaitis, 2029//N75772/Bulgaria/Popov, 2077//N77137/Poland/Kolczynski,
      2126//247459/Poland/Kolczynski}{
    \node[yplab] (yp\k) at (\x,52.48) {\yp};
    \node[kitlab] (kit\k) at (\x,52.97) {\kit};
    \node[ctylab] (cty\k) at (\x,53.79) {\cty};
    \node[namelab] (nm\k) at (\x,54.5) {\nm};
  }

  % haplogroup groups
  \foreach \xa/\xb in {460/701, 796/842, 849/936, 950/1045, 1060/1170, 1279/1514, 1521/1658, 1665/2159}
    \draw[grpbracket] (\xa,54.72) -- (\xa,55.02) -- (\xb,55.02) -- (\xb,54.72);
  \foreach \x/\t [count=\k] in {74/4.B, 184/4.A1, 379/4.A4, 574/4.A5, 814/4.A3, 890/4.A2,
      1002/4.C1, 1115/4.C2B, 1198/4.C2D, 1391/4.C2E, 1588/4.C2F, 1907/4.C2G}
    \node[brlab] (br\k) at (\x,55.81) {\t};
\end{tikzpicture}
\end{document}
